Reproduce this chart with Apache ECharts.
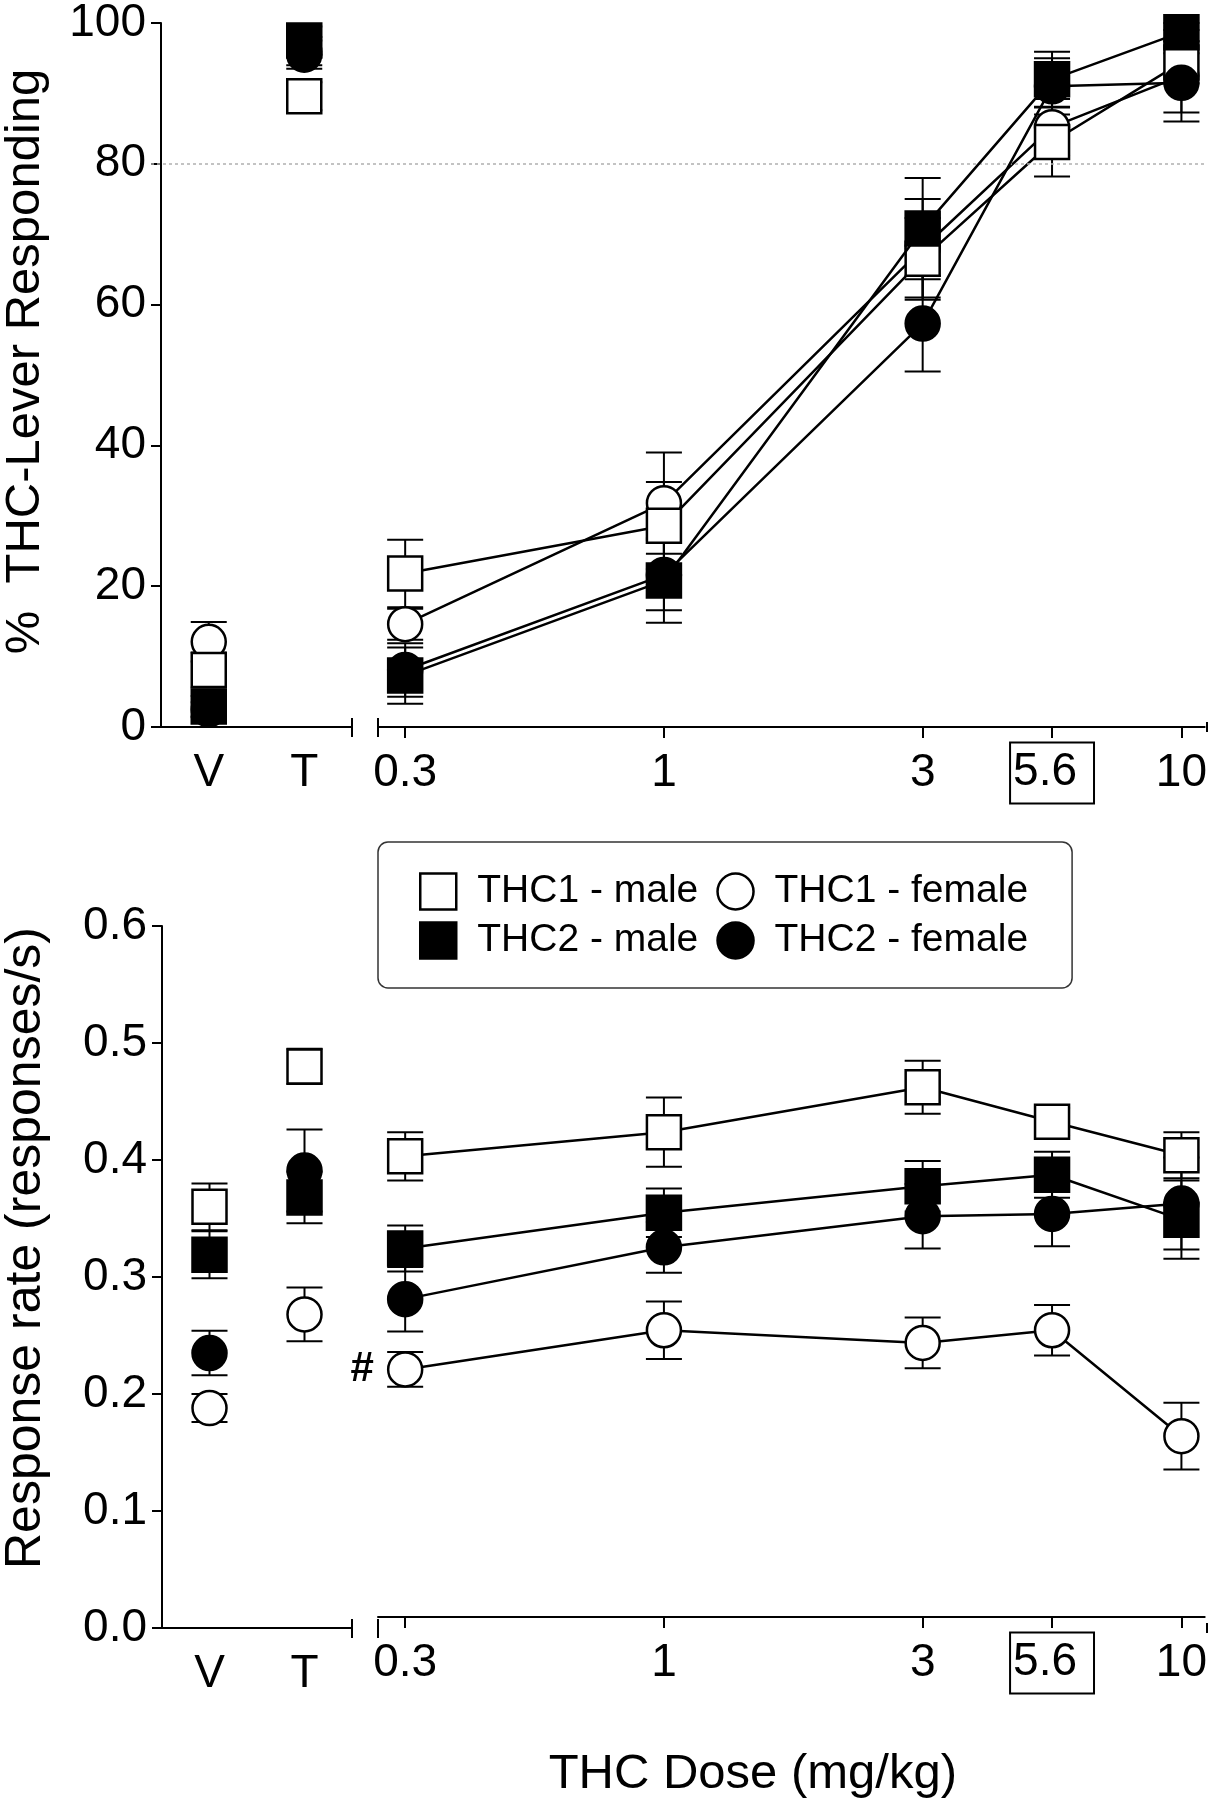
<!DOCTYPE html>
<html>
<head>
<meta charset="utf-8">
<script src="https://cdn.jsdelivr.net/npm/echarts@6/dist/echarts.min.js"></script>
<style>
html,body{margin:0;padding:0;background:#fff;}
#chart{width:1210px;height:1800px;}
</style>
</head>
<body>
<div id="chart"></div>
<script>
// ---------------- DATA ----------------
const xLabels = ['V', 'T', '0.3', '1', '3', '5.6', '10'];
const boxedLabel = '5.6';
const groups = ['THC1 - male', 'THC1 - female', 'THC2 - male', 'THC2 - female'];
const criterionPct = 80;

// % THC-lever responding (V, T, 0.3, 1, 3, 5.6, 10 mg/kg)
const pctTHC1Male      = [8.1, 89.6, 21.8, 28.6, 66.5, 83.1, 94.4];
const pctTHC1MaleErr   = [2.5, 2.0, 4.8, 6.2, 5.8, 4.9, 3.0];
const pctTHC1Female    = [12.1, 96.0, 14.6, 31.8, 68.0, 85.2, 92.5];
const pctTHC1FemaleErr = [2.8, 2.0, 2.2, 7.2, 7.0, 4.0, 6.5];
const pctTHC2Male      = [2.9, 97.5, 7.3, 20.8, 70.8, 92.0, 98.7];
const pctTHC2MaleErr   = [1.5, 2.0, 4.0, 6.0, 7.2, 3.9, 1.3];
const pctTHC2Female    = [2.5, 95.5, 8.1, 21.6, 57.3, 91.0, 91.5];
const pctTHC2FemaleErr = [1.0, 2.0, 3.8, 5.0, 6.8, 4.0, 4.2];

// Response rate (responses/s)
const rateTHC1Male      = [0.360, 0.480, 0.400, 0.421, 0.460, 0.430, 0.401];
const rateTHC1MaleErr   = [0.020, 0.015, 0.021, 0.030, 0.023, 0.012, 0.020];
const rateTHC1Female    = [0.188, 0.268, 0.215, 0.249, 0.238, 0.249, 0.157];
const rateTHC1FemaleErr = [0.012, 0.023, 0.015, 0.025, 0.022, 0.022, 0.029];
const rateTHC2Male      = [0.319, 0.368, 0.320, 0.351, 0.374, 0.384, 0.345];
const rateTHC2MaleErr   = [0.020, 0.022, 0.020, 0.021, 0.022, 0.020, 0.034];
const rateTHC2Female    = [0.235, 0.391, 0.276, 0.321, 0.348, 0.350, 0.359];
const rateTHC2FemaleErr = [0.019, 0.035, 0.028, 0.022, 0.028, 0.028, 0.040];
const rateTHC1FemaleNote = ['', '', '#', '', '', '', ''];

// ---------------- LAYOUT / STYLE ----------------
const FONT = "'Liberation Sans', Arial, Helvetica, sans-serif";
const LAY = { yAxisX: 151, leftEnd: 352, rightStart: 378, rightEnd: 1207,
              top1: 23, bottom1: 727, top2: 926, bottom2: 1628 };
// non-linear dose axis: position of each dose on the broken axis
const doseSlot = { '0.3': 0, '1': 2, '3': 4, '5.6': 5, '10': 6 };
const slotMin = -0.21, slotMax = 6.18;

const groupStyle = {
  'THC1 - male':   { symbol: 'rect',   fill: '#fff', z: 4 },
  'THC1 - female': { symbol: 'circle', fill: '#fff', z: 3 },
  'THC2 - male':   { symbol: 'rect',   fill: '#000', z: 6 },
  'THC2 - female': { symbol: 'circle', fill: '#000', z: 5 }
};

const panels = [
  { vals: [pctTHC1Male, pctTHC1Female, pctTHC2Male, pctTHC2Female],
    errs: [pctTHC1MaleErr, pctTHC1FemaleErr, pctTHC2MaleErr, pctTHC2FemaleErr],
    notes: [null, null, null, null] },
  { vals: [rateTHC1Male, rateTHC1Female, rateTHC2Male, rateTHC2Female],
    errs: [rateTHC1MaleErr, rateTHC1FemaleErr, rateTHC2MaleErr, rateTHC2FemaleErr],
    notes: [null, rateTHC1FemaleNote, null, null] }
];

const ctrlCats = xLabels.slice(0, 2);
const doseCats = xLabels.slice(2);

const axisLineStyle = { color: '#000', width: 2 };
const tickLabelStyle = { color: '#000', fontSize: 46, fontFamily: FONT };

function errSeries(xIdx, yIdx, data, z, name) {
  return {
    type: 'custom', name: name, xAxisIndex: xIdx, yAxisIndex: yIdx, z: z, silent: true,
    data: data, encode: { x: 0, y: 1 },
    renderItem: function (params, api) {
      const x = api.value(0), m = api.value(1), e = api.value(2);
      const t = api.coord([x, m + e]), b = api.coord([x, m - e]);
      const hw = 18, st = { stroke: '#000', lineWidth: 2 };
      return { type: 'group', children: [
        { type: 'line', shape: { x1: t[0], y1: t[1], x2: b[0], y2: b[1] }, style: st },
        { type: 'line', shape: { x1: t[0] - hw, y1: t[1], x2: t[0] + hw, y2: t[1] }, style: st },
        { type: 'line', shape: { x1: b[0] - hw, y1: b[1], x2: b[0] + hw, y2: b[1] }, style: st }
      ]};
    }
  };
}

const series = [];
panels.forEach(function (p, pi) {
  const xl = pi * 2, xr = pi * 2 + 1, yl = pi * 2, yr = pi * 2 + 1;
  groups.forEach(function (g, gi) {
    const st = groupStyle[g];
    const vals = p.vals[gi], errs = p.errs[gi], notes = p.notes[gi];
    const itemStyle = { color: st.fill, borderColor: '#000', borderWidth: 2.5, opacity: 1 };
    const sName = pi === 0 ? g : g + ' (rate)';
    // control points (V, T)
    series.push(errSeries(xl, yl, ctrlCats.map((c, i) => [c, vals[i], errs[i]]), 2, sName + ' err'));
    series.push({
      type: 'scatter', name: sName + ' ctrl', xAxisIndex: xl, yAxisIndex: yl, z: st.z,
      symbol: st.symbol, symbolSize: 34, itemStyle: itemStyle, silent: true,
      data: ctrlCats.map((c, i) => [c, vals[i]])
    });
    // dose-effect curve
    series.push(errSeries(xr, yr, doseCats.map((c, i) => [doseSlot[c], vals[i + 2], errs[i + 2]]), 2, sName + ' derr'));
    const lineSeries = {
      type: 'line', name: sName, xAxisIndex: xr, yAxisIndex: yr, z: st.z,
      symbol: st.symbol, symbolSize: 34, itemStyle: itemStyle, silent: true,
      lineStyle: { color: '#000', width: 2.5 },
      data: doseCats.map((c, i) => [doseSlot[c], vals[i + 2]])
    };
    if (notes) {
      lineSeries.label = {
        show: true, position: 'left', distance: 13,
        formatter: params => notes[params.dataIndex + 2] || '',
        fontSize: 42, fontWeight: 'bold', color: '#000', fontFamily: FONT
      };
    }
    series.push(lineSeries);
  });
});

// criterion line (80%) across the whole top panel
series.push({
  type: 'line', name: 'criterion', xAxisIndex: 4, yAxisIndex: 4, z: 1, silent: true,
  data: [],
  markLine: { symbol: 'none', silent: true, label: { show: false },
    lineStyle: { type: [3, 3], color: '#b0b0b0', width: 1.5 },
    data: [{ yAxis: criterionPct }] }
});

const slotToLabel = {};
Object.keys(doseSlot).forEach(k => { slotToLabel[doseSlot[k]] = k; });
const slotValues = doseCats.map(c => doseSlot[c]);

function leftX(gridIndex) {
  return {
    type: 'category', gridIndex: gridIndex, data: ctrlCats, boundaryGap: true,
    axisLine: { lineStyle: axisLineStyle },
    axisTick: { alignWithLabel: true, interval: 0, length: 11, lineStyle: axisLineStyle },
    axisLabel: Object.assign({ margin: 23, interval: 0, lineHeight: 46 }, tickLabelStyle),
    splitLine: { show: false }
  };
}
function rightX(gridIndex, withName) {
  const ax = {
    type: 'value', gridIndex: gridIndex, min: slotMin, max: slotMax,
    axisLine: { lineStyle: axisLineStyle },
    axisTick: { customValues: slotValues, length: 11, lineStyle: axisLineStyle },
    axisLabel: Object.assign({
      customValues: slotValues, margin: 23, lineHeight: 46,
      formatter: function (v) {
        const lab = slotToLabel[v];
        return lab === boxedLabel ? '{box|' + lab + '}' : lab;
      },
      rich: { box: { borderColor: '#000', borderWidth: 2, padding: [7, 17, 8, 3],
        fontSize: 46, lineHeight: 46, fontFamily: FONT, color: '#000' } }
    }, tickLabelStyle),
    splitLine: { show: false }
  };
  if (withName) {
    Object.assign(ax, {
      name: 'THC Dose (mg/kg)', nameLocation: 'middle', nameGap: 133,
      nameTextStyle: { fontSize: 49, lineHeight: 49, fontFamily: FONT, color: '#000', padding: [0, 77, 0, 0] }
    });
  }
  return ax;
}
function yAxisVis(gridIndex, min, max, interval, name, nameSize, namePad, fmt) {
  return {
    type: 'value', gridIndex: gridIndex, min: min, max: max, interval: interval,
    axisLine: { show: true, lineStyle: axisLineStyle },
    axisTick: { show: true, length: 10, lineStyle: axisLineStyle },
    axisLabel: Object.assign({ margin: 15, formatter: fmt }, tickLabelStyle),
    splitLine: { show: false },
    name: name, nameLocation: 'middle', nameGap: 111,
    nameTextStyle: { fontSize: nameSize, lineHeight: nameSize, fontFamily: FONT, color: '#000', padding: namePad }
  };
}
function yAxisHidden(gridIndex, min, max) {
  return { type: 'value', gridIndex: gridIndex, min: min, max: max, show: false, splitLine: { show: false } };
}

const option = {
  backgroundColor: '#fff',
  animation: false,
  textStyle: { fontFamily: FONT },
  grid: [
    { left: LAY.yAxisX, width: LAY.leftEnd - LAY.yAxisX, top: LAY.top1, height: LAY.bottom1 - LAY.top1 },
    { left: LAY.rightStart, width: LAY.rightEnd - LAY.rightStart, top: LAY.top1, height: LAY.bottom1 - LAY.top1 },
    { left: LAY.yAxisX, width: LAY.leftEnd - LAY.yAxisX, top: LAY.top2, height: LAY.bottom2 - LAY.top2 },
    { left: LAY.rightStart, width: LAY.rightEnd - LAY.rightStart, top: LAY.top2, height: LAY.bottom2 - LAY.top2 },
    { left: LAY.yAxisX, width: LAY.rightEnd - LAY.yAxisX, top: LAY.top1, height: LAY.bottom1 - LAY.top1 }
  ],
  xAxis: [
    leftX(0), rightX(1, false), leftX(2), rightX(3, true),
    { type: 'value', gridIndex: 4, min: 0, max: 1, show: false }
  ],
  yAxis: [
    yAxisVis(0, 0, 100, 20, '%  THC-Lever Responding', 49, [0, 0, 0, 27], v => String(v)),
    yAxisHidden(1, 0, 100),
    yAxisVis(2, 0, 0.6, 0.1, 'Response rate (responses/s)', 50, [0, 0, 0, 58], v => v.toFixed(1)),
    yAxisHidden(3, 0, 0.6),
    yAxisHidden(4, 0, 100)
  ],
  legend: {
    left: 378, top: 842, width: 700, orient: 'horizontal',
    itemWidth: 36, itemHeight: 36, itemGap: 10,
    padding: [30, 36, 28, 41],
    backgroundColor: '#fff', borderColor: '#333', borderWidth: 1.5, borderRadius: 10,
    selectedMode: false,
    textStyle: { fontSize: 39, lineHeight: 38, color: '#000', fontFamily: FONT, padding: [0, 8, 0, 16] },
    data: groups.map(g => ({ name: g, icon: groupStyle[g].symbol,
      itemStyle: { color: groupStyle[g].fill, borderColor: '#000', borderWidth: 2.5 } }))
  },
  graphic: [
    // axis break marks
    { type: 'line', shape: { x1: LAY.leftEnd, y1: LAY.bottom1 - 9, x2: LAY.leftEnd, y2: LAY.bottom1 + 10 }, style: { stroke: '#000', lineWidth: 2 } },
    { type: 'line', shape: { x1: LAY.rightStart, y1: LAY.bottom1 - 9, x2: LAY.rightStart, y2: LAY.bottom1 + 10 }, style: { stroke: '#000', lineWidth: 2 } },
    { type: 'line', shape: { x1: LAY.rightEnd, y1: LAY.bottom1 - 5, x2: LAY.rightEnd, y2: LAY.bottom1 + 5 }, style: { stroke: '#000', lineWidth: 2 } },
    { type: 'line', shape: { x1: LAY.leftEnd, y1: LAY.bottom2 - 9, x2: LAY.leftEnd, y2: LAY.bottom2 + 10 }, style: { stroke: '#000', lineWidth: 2 } },
    { type: 'line', shape: { x1: LAY.rightStart, y1: LAY.bottom2 - 9, x2: LAY.rightStart, y2: LAY.bottom2 + 10 }, style: { stroke: '#000', lineWidth: 2 } },
    { type: 'line', shape: { x1: LAY.rightEnd, y1: LAY.bottom2 - 5, x2: LAY.rightEnd, y2: LAY.bottom2 + 5 }, style: { stroke: '#000', lineWidth: 2 } }
  ],
  series: series
};

const chart = echarts.init(document.getElementById('chart'), null, { renderer: 'canvas' });
chart.setOption(option);
</script>
</body>
</html>
